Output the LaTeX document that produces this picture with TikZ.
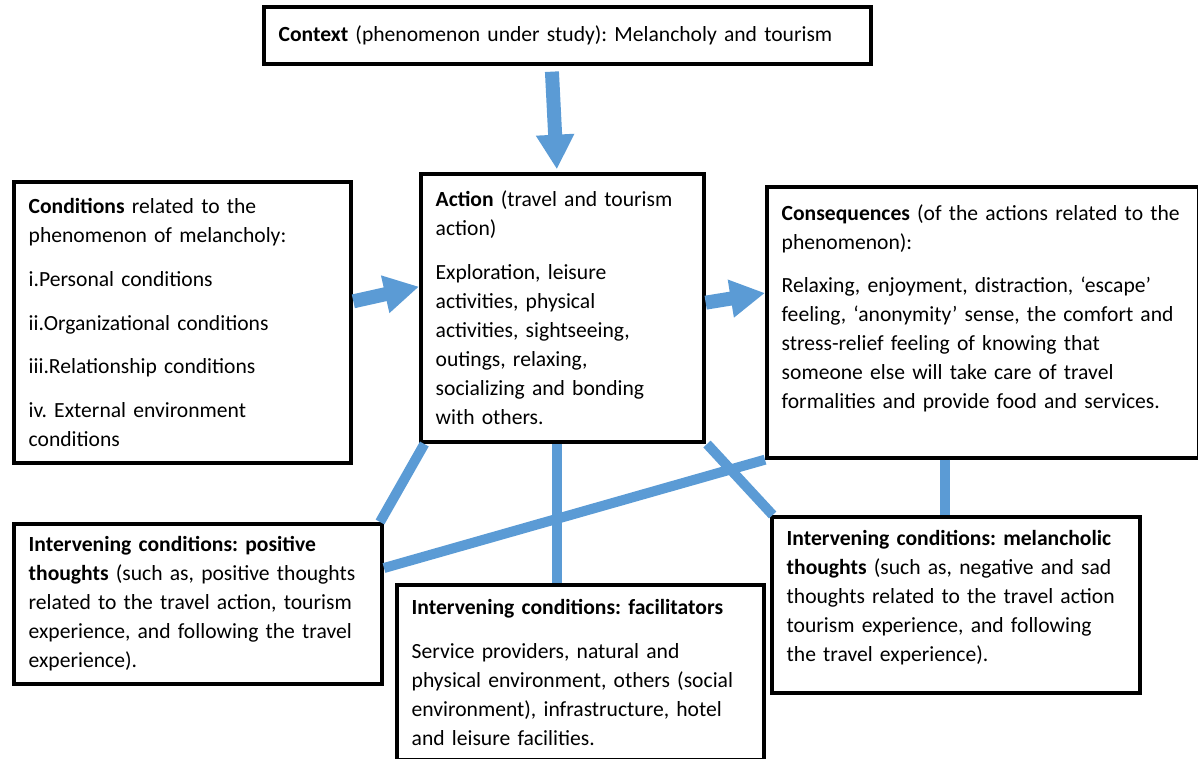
\documentclass[tikz,border=0pt]{standalone}
\usepackage{fontspec}
\setmainfont{Carlito}
\usetikzlibrary{arrows.meta,calc}
\definecolor{flowblue}{HTML}{5B9BD5}

\begin{document}
\frenchspacing
\begin{tikzpicture}[x=0.75pt,y=-0.75pt,
    box/.style={draw, line width=3pt, anchor=north west, align=left, inner xsep=11pt,
        font=\fontsize{16.2pt}{21.75pt}\selectfont},
    fatarrow/.style={draw=flowblue, line width=10.5pt, -{Triangle[length=26pt,width=27pt]}},
    link/.style={draw=flowblue, line width=7.5pt}]

    \useasboundingbox (0,0) rectangle (1198,758);

    \node[box, minimum width=455pt, minimum height=43pt, text width=433pt] (context) at (262,5)
        {\textbf{Context} (phenomenon under study): Melancholy and tourism};

    \node[box, minimum width=253pt, minimum height=211pt, text width=231pt] (cond) at (12,180)
        {\textbf{Conditions} related to the\\phenomenon of melancholy:\\[11pt]
         i.Personal conditions\\[11pt]
         ii.Organizational conditions\\[11pt]
         iii.Relationship conditions\\[11pt]
         iv. External environment\\conditions};

    \node[box, minimum width=212pt, minimum height=201pt, text width=190pt] (action) at (419,172)
        {\textbf{Action} (travel and tourism\\action)\\[11pt]
         Exploration, leisure\\activities, physical\\activities, sightseeing,\\outings, relaxing,\\socializing and bonding\\with others.};

    % empty last line keeps the text near the top
    \node[box, minimum width=324pt, minimum height=203pt, text width=302pt] (conseq) at (765,185)
        {\textbf{Consequences} (of the actions related to the\\phenomenon):\\[11pt]
         Relaxing, enjoyment, distraction, ‘escape’\\feeling, ‘anonymity’ sense, the comfort and\\stress-relief feeling of knowing that\\someone else will take care of travel\\formalities and provide food and services.\\[2pt]\mbox{}};

    \node[box, minimum width=276pt, minimum height=120pt, text width=254pt] (positive) at (12,522)
        {\textbf{Intervening conditions: positive}\\\textbf{thoughts} (such as, positive thoughts\\related to the travel action, tourism\\experience, and following the travel\\experience).};

    \node[box, minimum width=275pt, minimum height=131pt, text width=253pt] (facil) at (395,583)
        {\textbf{Intervening conditions: facilitators}\\[11pt]
         Service providers, natural and\\physical environment, others (social\\environment), infrastructure, hotel\\and leisure facilities.};

    \node[box, minimum width=276pt, minimum height=132pt, text width=254pt] (melan) at (770,515)
        {\textbf{Intervening conditions: melancholic}\\\textbf{thoughts} (such as, negative and sad\\thoughts related to the travel action\\tourism experience, and following\\the travel experience).\\[-8pt]\mbox{}};

    % arrows
    \draw[fatarrow, shorten <=4pt, shorten >=2pt] ([xshift=-8pt]action.north |- context.south) -- ([xshift=-4pt]action.north);
    \draw[fatarrow] ([yshift=16pt]cond.east) -- ([yshift=16pt]action.west);
    \draw[fatarrow] ([yshift=4pt]action.east) -- ([yshift=22pt]conseq.west);

    % intervening links
    \draw[link] ([xshift=4pt]action.south west) -- ([xshift=-3pt]positive.north east);
    \draw[link] ([xshift=-4pt]action.south) -- ([xshift=-4pt]action.south |- facil.north);
    \draw[link] ([xshift=1pt]action.south east) -- ([xshift=2pt]melan.north west);
    \draw[link] (conseq.south west) -- ($(positive.north east)+(0,46)$);
    \draw[link] ([xshift=-8pt]melan.north |- conseq.south) -- ([xshift=-8pt]melan.north);
\end{tikzpicture}
\end{document}
